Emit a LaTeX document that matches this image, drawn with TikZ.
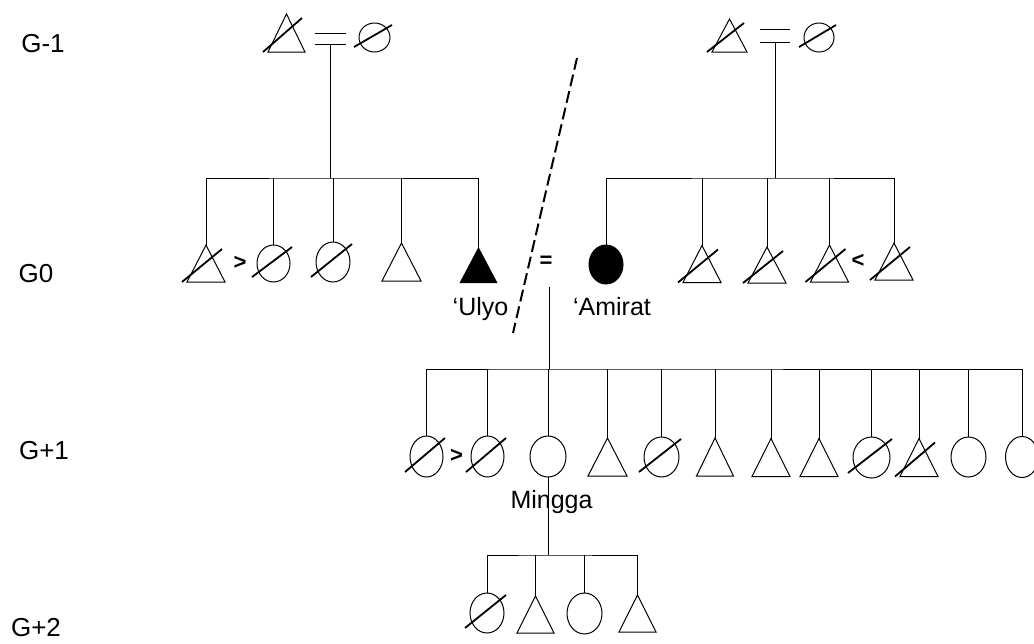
\documentclass[tikz,border=0pt]{standalone}
\usepackage{fontspec}
\setmainfont{Liberation Sans}
\usetikzlibrary{shapes.geometric,calc}
\begin{document}
\begin{tikzpicture}[x=1pt,y=-1pt,
  ln/.style={line width=0.9pt},
  shp/.style={line width=1pt, line join=miter},
  strike/.style={line width=1.8pt},
  trib/.style={rectangle, minimum width=38pt, minimum height=37pt, inner sep=0pt, outer sep=0pt},
  circ/.style={ellipse, draw, line width=1pt, minimum width=34pt, minimum height=40pt, inner sep=0pt, outer sep=0pt},
  eqb/.style={rectangle, minimum width=31pt, minimum height=11pt, inner sep=0pt, outer sep=0pt},
  gen/.style={font=\fontsize{26}{30}\selectfont, inner sep=0pt},
  lab/.style={font=\fontsize{25}{30}\selectfont, inner sep=0pt, anchor=base},
  rel/.style={font=\fontsize{22}{26}\selectfont\bfseries, inner sep=0pt},
  dsh/.style={line width=2pt, dash pattern=on 12pt off 5pt}
]
\useasboundingbox (0,0) rectangle (1034,643);

% generation labels
\node[gen] (gm1) at (43,44) {G-1};
\node[gen] (g0) at (36,274) {G0};
\node[gen] (gp1) at (44,451) {G+1};
\node[gen] (gp2) at (36,628) {G+2};

% G-1 left couple
\node[trib, minimum width=37pt, minimum height=38pt] (t1) at (286.5,33) {};
\node[eqb] (eL) at (330,38.5) {};
\node[circ, minimum width=31pt, minimum height=29pt] (t2) at (374.5,37.5) {};
% G-1 right couple
\node[trib, minimum width=35pt, minimum height=33pt] (t3) at (729.5,35.5) {};
\node[eqb, minimum width=30pt, minimum height=13pt] (eR) at (775,35.5) {};
\node[circ, minimum width=30pt, minimum height=29pt] (t4) at (819,37.5) {};

% G0 left siblings
\node[trib] (a1) at (206,263.5) {};
\node[rel] (gtA) at (240,263) {>};
\node[circ, minimum width=33pt, minimum height=37pt] (a2) at (273.5,263.5) {};
\node[circ] (a3) at (333,262) {};
\node[trib, minimum width=39pt, minimum height=38pt] (a4) at (401.5,262) {};
\node[trib, minimum height=36pt] (a5) at (478.5,265) {};
\node[lab] (ulyo) at (480.5,315) {‘Ulyo};

% G0 couple
\node[rel] (eq0) at (546,262) {=};
\node[circ, fill=black, minimum height=39pt] (b0) at (606,264.5) {};
\node[lab] (amirat) at (612,315) {‘Amirat};

% G0 right siblings
\node[trib] (b1) at (702,264) {};
\node[trib, minimum height=36pt] (b2) at (767,265) {};
\node[trib] (b3) at (829.5,263.5) {};
\node[rel] (ltB) at (858,261) {<};
\node[trib] (b4) at (894,261.5) {};

% G+1
\node[circ, minimum width=33pt, minimum height=41pt] (c1) at (426.5,456.5) {};
\node[rel] (gtC) at (456.5,456) {>};
\node[circ, minimum width=33pt, minimum height=41pt] (c2) at (487.5,456.5) {};
\node[circ, minimum width=36pt, minimum height=41pt] (c3) at (548,456.5) {};
\node[trib, minimum width=39pt, minimum height=38pt] (c4) at (607.5,457) {};
\node[circ, minimum width=35pt] (c5) at (661.5,457) {};
\node[trib, minimum width=37pt, minimum height=38pt] (c6) at (715,457) {};
\node[trib, minimum height=38pt] (c7) at (771,457.5) {};
\node[trib, minimum height=38pt] (c8) at (819,457.5) {};
\node[circ, minimum width=37pt, minimum height=41pt] (c9) at (871.5,457.5) {};
\node[trib, minimum height=38pt] (c10) at (919,457.5) {};
\node[circ, minimum width=35pt] (c11) at (968.5,457) {};
\node[circ, minimum width=33pt, minimum height=41pt] (c12) at (1022,457) {};

% G+2
\node[circ] (d1) at (487,613) {};
\node[trib, minimum width=37pt] (d2) at (535.5,614.5) {};
\node[circ, minimum width=35pt, minimum height=41pt] (d3) at (584.5,613.5) {};
\node[trib, minimum width=37pt] (d4) at (637.5,613.5) {};

% triangle outlines
\foreach \n in {t1,t3,a1,a4,b1,b2,b3,b4,c4,c6,c7,c8,c10,d2,d4}
  \draw[shp] (\n.south west) -- (\n.south east) -- (\n.north) -- cycle;
\fill[black] (a5.south west) -- (a5.south east) -- (a5.north) -- cycle;

% deceased strikes
\foreach \n in {t1,t3,a1,b1,b2,b3,b4,c10}
  \draw[strike] ($(\n.south west)+(-5,0)$) -- ($(\n.north east)+(-3,4)$);
\foreach \n in {t2,t4,a2,a3,c1,c2,c5,c9,d1}
  \draw[strike] ($(\n.west |- \n.south)+(-5,-5)$) -- ($(\n.east |- \n.north)+(2,2)$);

% marriage signs
\foreach \n in {eL,eR}
  \draw[ln] (\n.north west) -- (\n.north east) (\n.south west) -- (\n.south east);

% descent lines G-1 -> G0
\coordinate (barL) at (330,178);
\coordinate (barR) at (775,178);
\draw[ln] (eL.south) -- (barL);
\draw[ln] (a1.north) |- (barL) -| (a5.north);
\foreach \n in {a2,a3,a4} \draw[ln] (\n.north) -- (\n.north |- barL);
\draw[ln] (eR.south) -- (barR);
\draw[ln] (b0.north) |- (barR) -| (b4.north);
\foreach \n in {b1,b2,b3} \draw[ln] (\n.north) -- (\n.north |- barR);

% descent G0 -> G+1
\coordinate (m0) at (549,287);
\coordinate (barC) at (549,369);
\draw[ln] (m0) -- (barC);
\draw[ln] (c1.north) |- (barC) -| (c12.north);
\foreach \n in {c2,c3,c4,c5,c6,c7,c8,c9,c10,c11} \draw[ln] (\n.north) -- (\n.north |- barC);

% descent G+1 -> G+2
\coordinate (barD) at (548,555);
\draw[ln] (c3.south) -- (barD);
\draw[ln] (d1.north) |- (barD) -| (d4.north);
\foreach \n in {d2,d3} \draw[ln] (\n.north) -- (\n.north |- barD);
\node[lab] (ming) at (551.5,508) {Mingga};

% dashed divider
\coordinate (dA) at (577,58);
\coordinate (dB) at (513,333);
\draw[dsh] (dA) -- (dB);
\end{tikzpicture}
\end{document}
